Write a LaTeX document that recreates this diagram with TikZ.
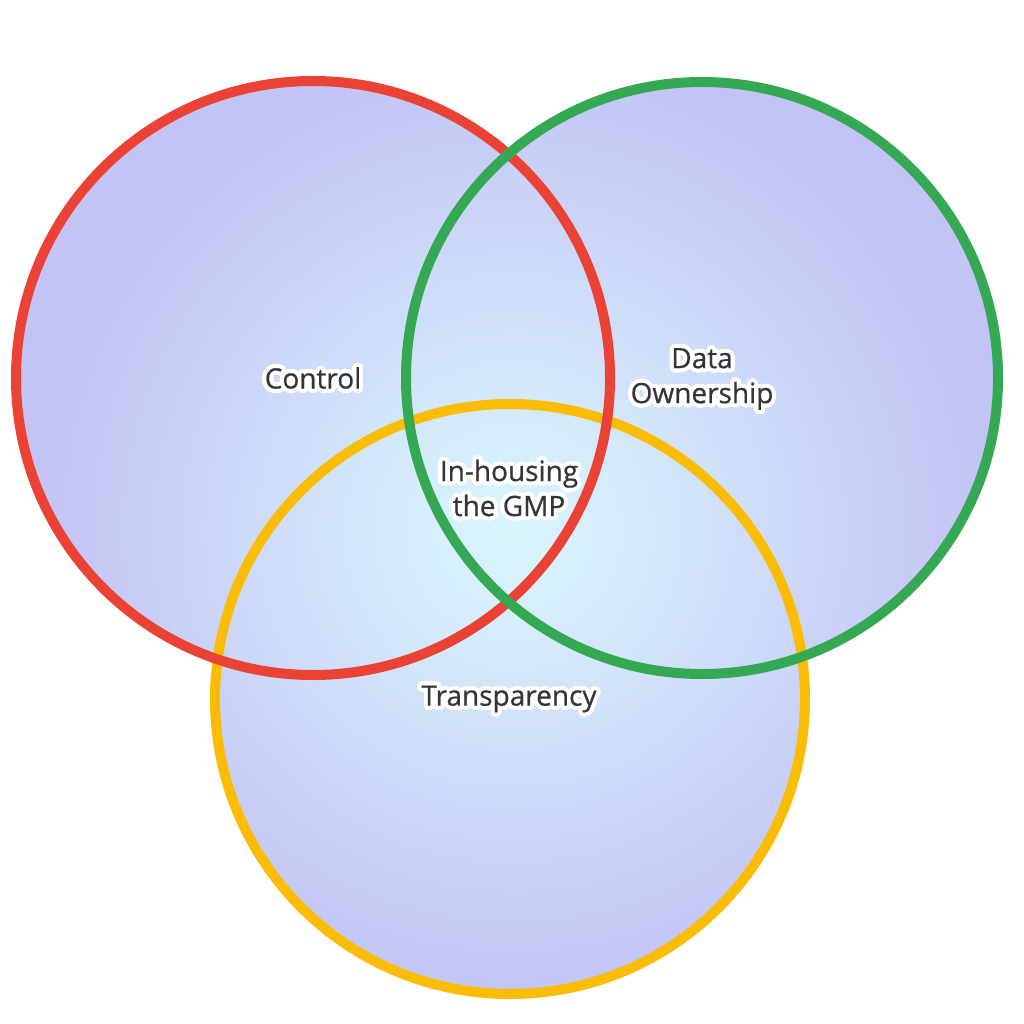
\documentclass[tikz,border=0pt]{standalone}
\usepackage{fontspec}
\setmainfont{Open Sans}
\newfontfamily\lblfont[FakeBold=0.6]{Open Sans}
\usepackage{contour}
\contourlength{4pt}
\contournumber{48}
\definecolor{vcen}{HTML}{DAF7FD}
\definecolor{vout}{HTML}{C3C3F5}
\definecolor{gred}{HTML}{EA4335}
\definecolor{ggreen}{HTML}{34A853}
\definecolor{gyellow}{HTML}{FBBC04}
\definecolor{txt}{HTML}{333537}
\pgfdeclareradialshading{vennshade}{\pgfpointorigin}{color(0bp)=(vcen); color(12.5bp)=(vout); color(50bp)=(vout)}
\newcommand{\halo}[1]{\contour{white}{#1}}
\begin{document}
\begin{tikzpicture}[x=1pt,y=-1pt,
  ring/.style={line width=10pt},
  lbl/.style={text=txt,font=\lblfont\fontsize{28}{35}\selectfont,align=center,inner sep=0pt}]
\useasboundingbox (0,0) rectangle (1024,1024);
\coordinate (cr) at (313,378);
\coordinate (cg) at (702,378);
\coordinate (cy) at (510,699);
\begin{scope}
  \clip (cr) circle (297) (cg) circle (296) (cy) circle (295);
  \shade[shading=vennshade] (513,530) circle (960);
\end{scope}
\draw[ring,gyellow] (cy) circle (295);
\draw[ring,gred] (cr) circle (297);
\draw[ring,ggreen] (cg) circle (296);
\node[lbl] (control) at (313,380) {\halo{Control}};
\node[lbl] (data) at (702,381) {\halo{Data}\\\halo{Ownership}};
\node[lbl] (gmp) at (509,490) {\halo{In-housing}\\\halo{the GMP}};
\node[lbl] (transp) at (509,701) {\halo{Transparency}};
\end{tikzpicture}
\end{document}
